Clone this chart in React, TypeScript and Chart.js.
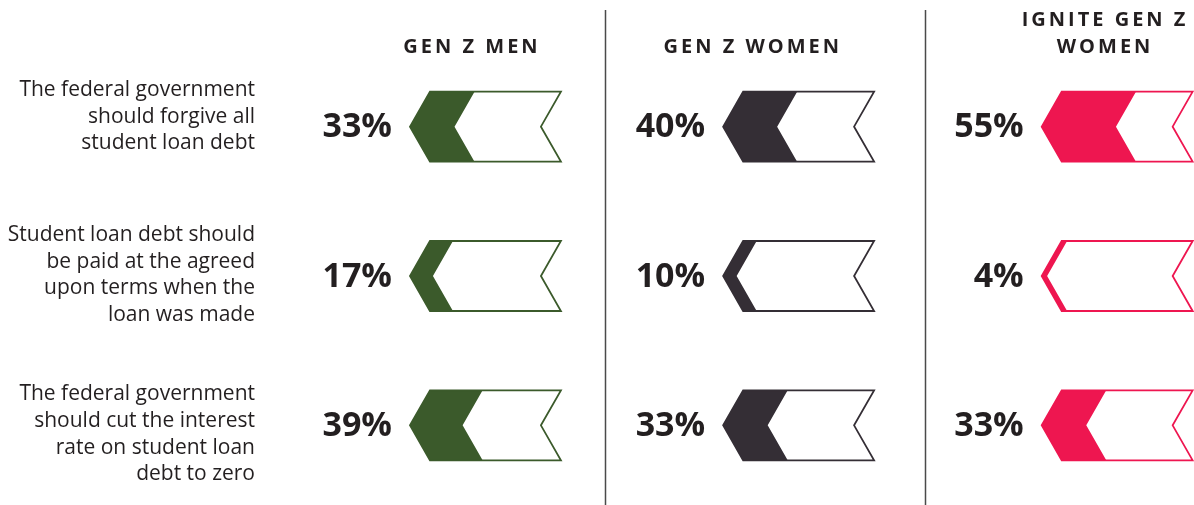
import React, { useEffect, useRef } from 'react';
import { Chart, registerables } from 'chart.js';

Chart.register(...registerables);

// ---- data ----
const statements: string[][] = [
  ['The federal government', 'should forgive all', 'student loan debt'],
  ['Student loan debt should', 'be paid at the agreed', 'upon terms when the', 'loan was made'],
  ['The federal government', 'should cut the interest', 'rate on student loan', 'debt to zero'],
];
const groupNames = ['GEN Z MEN', 'GEN Z WOMEN', 'IGNITE GEN Z WOMEN'];
const headerLines: string[][] = [['GEN Z MEN'], ['GEN Z WOMEN'], ['IGNITE GEN Z', 'WOMEN']];
const genZMen = [33, 17, 39];
const genZWomen = [40, 10, 33];
const igniteGenZWomen = [55, 4, 33];
const seriesValues = [genZMen, genZWomen, igniteGenZWomen];
const seriesColors = ['#3B5A2B', '#342E35', '#EE1650'];

// ---- layout (scale units: 1 unit = 1 percentage point) ----
const GROUP_OFFSET = [0, 232, 468];
const BODY = 97;
const X_MIN = -120;
const X_MAX = 566;
const DIVIDERS = [129.6, 366.7];
const HEADER_SHIFT = [30, 6, 31];
const LABEL_SHIFT = [-10, -1, 9];
const TIP = 20;
const FONT = '"Open Sans", "DejaVu Sans", sans-serif';

const chevronPlugin = {
  id: 'chevrons',
  afterDatasetsDraw(chart: any) {
    const ctx = chart.ctx as CanvasRenderingContext2D;
    const xs = chart.scales.x;
    const ys = chart.scales.y;
    ctx.save();
    // dividers
    ctx.strokeStyle = '#4a4a4a';
    ctx.lineWidth = 1.5;
    DIVIDERS.forEach((d) => {
      const px = Math.round(xs.getPixelForValue(d)) + 0.5;
      ctx.beginPath();
      ctx.moveTo(px, 10);
      ctx.lineTo(px, chart.height);
      ctx.stroke();
    });
    // statement labels
    ctx.fillStyle = '#231f20';
    ctx.font = `21px ${FONT}`;
    ctx.textAlign = 'right';
    ctx.textBaseline = 'middle';
    statements.forEach((lines, i) => {
      const cy = ys.getPixelForValue(i) + LABEL_SHIFT[i];
      const lh = 26.7;
      lines.forEach((ln, k) => {
        ctx.fillText(ln, 255, cy + (k - (lines.length - 1) / 2) * lh);
      });
    });
    // headers
    ctx.font = `bold 20px ${FONT}`;
    ctx.textAlign = 'center';
    (ctx as any).letterSpacing = '3px';
    headerLines.forEach((lines, g) => {
      const px = xs.getPixelForValue(GROUP_OFFSET[g] + HEADER_SHIFT[g]) + 1.5;
      lines.forEach((ln, k) => {
        const y = 47 - (lines.length - 1 - k) * 27;
        ctx.fillText(ln, px, y);
      });
    });
    (ctx as any).letterSpacing = '0px';

    // chevrons
    for (let g = 0; g < 3; g++) {
      const outlineMeta = chart.getDatasetMeta(g * 2);
      const fillMeta = chart.getDatasetMeta(g * 2 + 1);
      const color = seriesColors[g];
      outlineMeta.data.forEach((el: any, i: number) => {
        const o = el.getProps(['x', 'y', 'base', 'height'], true);
        const f = fillMeta.data[i].getProps(['x', 'y', 'base', 'height'], true);
        const yt = o.y - o.height / 2;
        const yb = o.y + o.height / 2;
        const ym = o.y;
        const xb = o.base;
        const xe = o.x;
        const xf = f.x;
        // fill
        ctx.fillStyle = color;
        ctx.beginPath();
        ctx.moveTo(xb, yt);
        ctx.lineTo(xf, yt);
        ctx.lineTo(xf - TIP, ym);
        ctx.lineTo(xf, yb);
        ctx.lineTo(xb, yb);
        ctx.lineTo(xb - TIP, ym);
        ctx.closePath();
        ctx.fill();
        // outline
        ctx.strokeStyle = color;
        ctx.lineWidth = 1.8;
        ctx.lineJoin = 'miter';
        ctx.beginPath();
        ctx.moveTo(xb, yt);
        ctx.lineTo(xe, yt);
        ctx.lineTo(xe - TIP, ym);
        ctx.lineTo(xe, yb);
        ctx.lineTo(xb, yb);
        ctx.lineTo(xb - TIP, ym);
        ctx.closePath();
        ctx.stroke();
        // value label
        ctx.fillStyle = '#231f20';
        ctx.font = `bold 34px ${FONT}`;
        ctx.textAlign = 'right';
        ctx.textBaseline = 'middle';
        ctx.fillText(`${seriesValues[g][i]}%`, xb - TIP - 18, ym + 1);
      });
    }
    ctx.restore();
  },
};

export default function App() {
  const ref = useRef<HTMLCanvasElement | null>(null);
  useEffect(() => {
    document.body.style.margin = '0';
    const canvas = ref.current;
    if (!canvas) return;
    const datasets: any[] = [];
    seriesValues.forEach((vals, g) => {
      datasets.push({
        label: groupNames[g] + ' outline',
        data: vals.map(() => [GROUP_OFFSET[g], GROUP_OFFSET[g] + BODY]),
        backgroundColor: 'rgba(0,0,0,0)',
        borderWidth: 0,
        grouped: false,
        barThickness: 70,
      });
      datasets.push({
        label: groupNames[g],
        data: vals.map((v) => [GROUP_OFFSET[g], GROUP_OFFSET[g] + v]),
        backgroundColor: 'rgba(0,0,0,0)',
        borderWidth: 0,
        grouped: false,
        barThickness: 70,
      });
    });
    const chart = new Chart(canvas, {
      type: 'bar',
      data: { labels: statements.map((s) => s.join(' ')), datasets },
      options: {
        indexAxis: 'y',
        responsive: false,
        animation: false,
        layout: { padding: { left: 268, right: 0, top: 52, bottom: 5 } },
        plugins: { legend: { display: false }, tooltip: { enabled: false } },
        scales: {
          x: { display: false, min: X_MIN, max: X_MAX },
          y: { display: false },
        },
      },
      plugins: [chevronPlugin],
    });
    return () => chart.destroy();
  }, []);
  return <canvas ref={ref} width={1194} height={505} style={{ display: 'block' }} />;
}
